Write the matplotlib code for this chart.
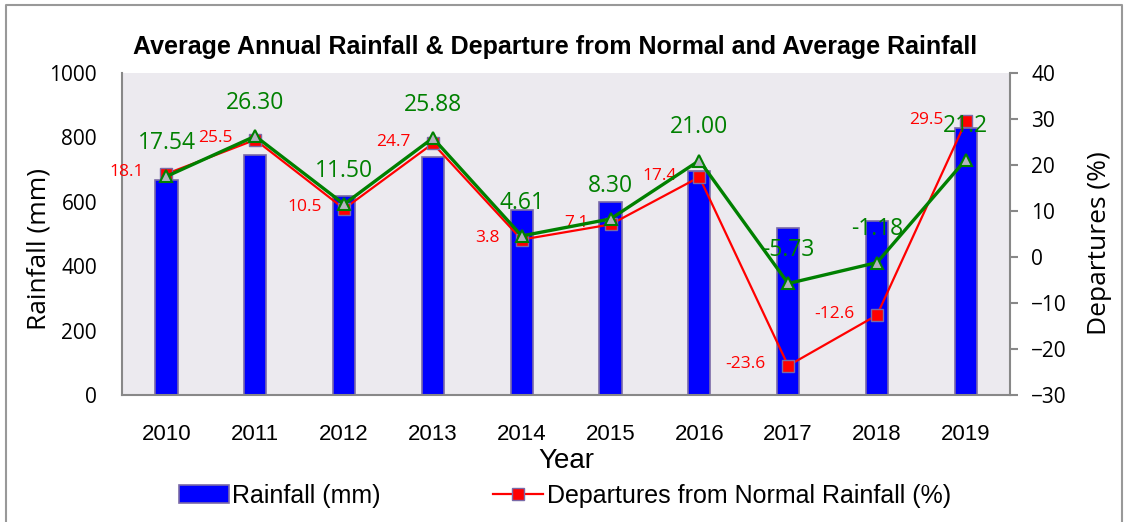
import matplotlib.pyplot as plt
from matplotlib.lines import Line2D
from matplotlib.patches import Patch
import numpy as np

years = ['2010', '2011', '2012', '2013', '2014', '2015', '2016', '2017', '2018', '2019']
rainfall = [668, 745, 618, 740, 575, 600, 696, 518, 540, 828]
dep_normal = [18.1, 25.5, 10.5, 24.7, 3.8, 7.1, 17.4, -23.6, -12.6, 29.5]
dep_average = [17.54, 26.30, 11.50, 25.88, 4.61, 8.30, 21.00, -5.73, -1.18, 21.2]
avg_labels = ['17.54', '26.30', '11.50', '25.88', '4.61', '8.30', '21.00', '-5.73', '-1.18', '21.2']

sans = ['Liberation Sans', 'DejaVu Sans']
opens = ['Open Sans', 'DejaVu Sans']
edge = '#7a6aa8'

fig = plt.figure(figsize=(11.3, 5.22), dpi=100)
ax = fig.add_axes([0.108, 0.243, 0.786, 0.617])
ax2 = ax.twinx()
ax.set_facecolor('#eceaef')

x = np.arange(len(years))
ax.bar(x, rainfall, width=0.25, color='#0000ff', edgecolor=edge, linewidth=1.2, zorder=2)
ax.set_xlim(-0.5, len(years) - 0.5)
ax.set_ylim(0, 1000)
ax.set_yticks(range(0, 1001, 200))
ax.set_xticks(x)
ax.set_xticklabels(years, fontfamily=sans, fontsize=16)
for t in ax.get_yticklabels():
    t.set_fontfamily(opens)
    t.set_fontsize(15)
ax.tick_params(axis='x', length=0, pad=21)
ax.tick_params(axis='y', length=0, pad=18)
ax.set_xlabel('Year', fontfamily=sans, fontsize=20, labelpad=2)
ax.set_ylabel('Rainfall (mm)', fontfamily=opens, fontsize=19)
ax.yaxis.set_label_coords(-0.079, 0.453)

ax2.plot(x, dep_normal, color='red', lw=1.6, marker='s', ms=8.5,
         markerfacecolor='red', markeredgecolor=edge, markeredgewidth=1, zorder=3)
ax2.plot(x, dep_average, color='green', lw=2.4, marker='^', ms=9,
         markerfacecolor='#b4b4c0', markeredgecolor='green', markeredgewidth=1.5, zorder=4)
ax2.set_ylim(-30, 40)
ax2.set_yticks(range(-30, 41, 10))
for t in ax2.get_yticklabels():
    t.set_fontfamily(opens)
    t.set_fontsize(15)
ax2.tick_params(axis='y', length=6, width=1.5, color='#888888', pad=9)
ax2.set_ylabel('Departures (%)', fontfamily=opens, fontsize=19)
ax2.yaxis.set_label_coords(1.087, 0.472)

for a in (ax, ax2):
    a.spines['top'].set_visible(False)
    for s in ('left', 'right', 'bottom'):
        a.spines[s].set_color('#888888')
        a.spines[s].set_linewidth(1.5)
ax.spines['right'].set_visible(False)
ax2.spines['left'].set_visible(False)
ax2.spines['bottom'].set_visible(False)

for xi, v in zip(x, dep_normal):
    ax2.annotate(f'{v:.1f}', (xi, v), xytext=(-16, 1), textcoords='offset points',
                 ha='right', va='center', color='red', fontsize=12.5, fontfamily=opens)
for xi, v, lab in zip(x, dep_average, avg_labels):
    ax2.annotate(lab, (xi, v), xytext=(0, 24), textcoords='offset points',
                 ha='center', va='center', color='green', fontsize=16.5, fontfamily=opens)

ax.set_title('Average Annual Rainfall & Departure from Normal and Average Rainfall',
             fontfamily=sans, fontweight='bold', fontsize=18, pad=14, x=0.488)

handles = [Patch(facecolor='#0000ff', edgecolor=edge, linewidth=1.2),
           Line2D([0], [0], color='red', lw=1.6, marker='s', ms=8.5,
                  markerfacecolor='red', markeredgecolor=edge)]
fig.legend(handles, ['Rainfall (mm)', 'Departures from Normal Rainfall (%)'],
           loc='center', bbox_to_anchor=(0.5, 0.05), ncol=2, frameon=False,
           prop={'family': sans, 'size': 18}, handlelength=2.0, handletextpad=0.15,
           columnspacing=4.5)

# outer frame (open at the bottom)
fx = [6 / 1130, 6 / 1130, 1122 / 1130, 1122 / 1130]
fy = [0, 1 - 5 / 522, 1 - 5 / 522, 0]
fig.add_artist(Line2D(fx, fy, color='#999999', lw=1.5, transform=fig.transFigure))

fig.savefig('out.png', dpi=100)
